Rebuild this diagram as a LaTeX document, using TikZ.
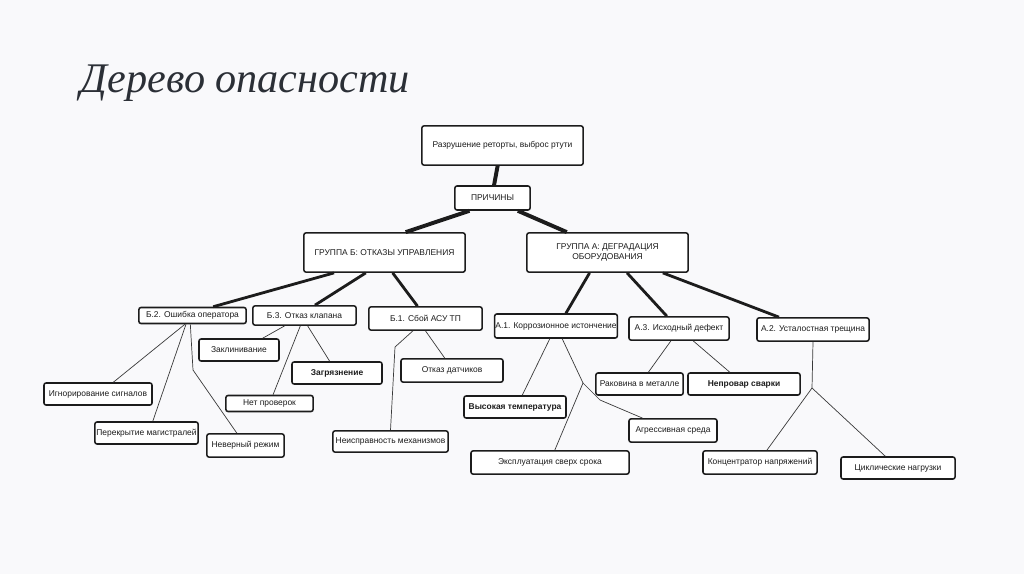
\documentclass[tikz,border=0pt]{standalone}
\usepackage{fontspec}
\setmainfont{Liberation Sans}
\newfontfamily\titlefont{Liberation Serif}
\usetikzlibrary{calc}
\definecolor{ink}{HTML}{1C1C1C}
\definecolor{paper}{HTML}{F9F9FB}
\definecolor{slate}{HTML}{2B2F36}
\definecolor{wire}{HTML}{3A3A3A}

\begin{document}
\begin{tikzpicture}[
  x=0.025cm, y=-0.025cm,
  font=\fontsize{6}{7}\selectfont, ink,
  box/.style={draw=ink, fill=white, line width=1.1pt, rounded corners=1.5pt,
              align=center, inner sep=1pt},
  trunk/.style={draw=ink, line width=2.8pt},
  limb/.style={draw=ink, line width=2pt},
  twig/.style={draw=wire, line width=0.5pt},
]
\fill[paper] (0,0) rectangle (1024,574);
\useasboundingbox (0,0) rectangle (1024,574);

\node[anchor=base west, font=\titlefont\itshape\fontsize{30}{32}\selectfont, text=slate]
  (title) at (76,92) {Дерево опасности};

% ---- top of the tree --------------------------------------------------------
\node[box, minimum width=4.03cm, minimum height=0.98cm] (top) at (502.5,145.5)
  {Разрушение реторты, выброс ртути};
\node[box, minimum width=1.88cm, minimum height=0.6cm] (why) at (492.5,198) {ПРИЧИНЫ};
\node[box, minimum width=4.03cm, minimum height=0.98cm] (grpB) at (384.5,252.5)
  {ГРУППА Б: ОТКАЗЫ УПРАВЛЕНИЯ};
\node[box, minimum width=4.03cm, minimum height=0.98cm] (grpA) at (607.5,252.5)
  {ГРУППА А: ДЕГРАДАЦИЯ\\ОБОРУДОВАНИЯ};

\draw[trunk] ($(top.south west)!0.47!(top.south east)$) -- ($(why.north west)!0.52!(why.north east)$);
\draw[trunk] ($(why.south west)!0.2!(why.south east)$) -- ($(grpB.north west)!0.63!(grpB.north east)$);
\draw[trunk] ($(why.south west)!0.83!(why.south east)$) -- ($(grpA.north west)!0.25!(grpA.north east)$);

% ---- group B ----------------------------------------------------------------
\node[box, minimum width=2.68cm, minimum height=0.4cm] (opErr) at (192.5,315.5) {Б.2. Ошибка оператора};
\node[box, minimum width=2.58cm, minimum height=0.48cm] (valve) at (304.5,315.5) {Б.3. Отказ клапана};
\node[box, minimum width=2.83cm, minimum height=0.58cm] (asu) at (425.5,318.5) {Б.1. Сбой АСУ ТП};

\draw[limb] ($(grpB.south west)!0.19!(grpB.south east)$) -- ($(opErr.north west)!0.69!(opErr.north east)$);
\draw[limb] ($(grpB.south west)!0.385!(grpB.south east)$) -- ($(valve.north west)!0.6!(valve.north east)$);
\draw[limb] ($(grpB.south west)!0.55!(grpB.south east)$) -- ($(asu.north west)!0.43!(asu.north east)$);

\node[box, minimum width=2.0cm, minimum height=0.55cm] (jam) at (239,350) {Заклинивание};
\node[box, minimum width=2.25cm, minimum height=0.55cm, font=\fontsize{6}{7}\selectfont\bfseries] (dirt) at (337,373) {Загрязнение};
\node[box, minimum width=2.55cm, minimum height=0.58cm] (sensor) at (452,370.5) {Отказ датчиков};
\node[box, minimum width=2.7cm, minimum height=0.55cm] (ignore) at (98,394) {Игнорирование сигналов};
\node[box, minimum width=2.18cm, minimum height=0.4cm] (nocheck) at (269.5,403.5) {Нет проверок};
\node[box, minimum width=2.58cm, minimum height=0.55cm] (block) at (146.5,433) {Перекрытие магистралей};
\node[box, minimum width=1.93cm, minimum height=0.58cm] (mode) at (245.5,445.5) {Неверный режим};
\node[box, minimum width=2.88cm, minimum height=0.53cm] (mech) at (390.5,441.5) {Неисправность механизмов};

\coordinate (bendMode) at (193,370);
\coordinate (bendMech) at (395,347);

\draw[twig] ($(opErr.south west)!0.43!(opErr.south east)$) -- ($(ignore.north west)!0.64!(ignore.north east)$);
\draw[twig] ($(opErr.south west)!0.44!(opErr.south east)$) -- ($(block.north west)!0.56!(block.north east)$);
\draw[twig] ($(opErr.south west)!0.48!(opErr.south east)$) -- (bendMode) -- ($(mode.north west)!0.39!(mode.north east)$);
\draw[twig] ($(valve.south west)!0.31!(valve.south east)$) -- ($(jam.north west)!0.79!(jam.north east)$);
\draw[twig] ($(valve.south west)!0.46!(valve.south east)$) -- ($(nocheck.north west)!0.54!(nocheck.north east)$);
\draw[twig] ($(valve.south west)!0.53!(valve.south east)$) -- ($(dirt.north west)!0.42!(dirt.north east)$);
\draw[twig] ($(asu.south west)!0.39!(asu.south east)$) -- (bendMech) -- ($(mech.north west)!0.5!(mech.north east)$);
\draw[twig] ($(asu.south west)!0.5!(asu.south east)$) -- ($(sensor.north west)!0.43!(sensor.north east)$);

% ---- group A ----------------------------------------------------------------
\node[box, minimum width=3.05cm, minimum height=0.6cm, inner sep=0.5pt] (corr) at (556,326) {А.1. Коррозионное истончение};
\node[box, minimum width=2.5cm, minimum height=0.58cm] (defect) at (679,328.5) {А.3. Исходный дефект};
\node[box, minimum width=2.8cm, minimum height=0.58cm] (crack) at (813,329.5) {А.2. Усталостная трещина};

\draw[limb] ($(grpA.south west)!0.39!(grpA.south east)$) -- ($(corr.north west)!0.58!(corr.north east)$);
\draw[limb] ($(grpA.south west)!0.62!(grpA.south east)$) -- ($(defect.north west)!0.38!(defect.north east)$);
\draw[limb] ($(grpA.south west)!0.84!(grpA.south east)$) -- ($(crack.north west)!0.2!(crack.north east)$);

\node[box, minimum width=2.18cm, minimum height=0.55cm] (cavity) at (639.5,384) {Раковина в металле};
\node[box, minimum width=2.8cm, minimum height=0.55cm, font=\fontsize{6}{7}\selectfont\bfseries] (weld) at (744,384) {Непровар сварки};
\node[box, minimum width=2.55cm, minimum height=0.55cm, font=\fontsize{6}{7}\selectfont\bfseries] (heat) at (515,407) {Высокая температура};
\node[box, minimum width=2.2cm, minimum height=0.58cm] (aggr) at (673,430.5) {Агрессивная среда};
\node[box, minimum width=3.95cm, minimum height=0.58cm] (overdue) at (550,462.5) {Эксплуатация сверх срока};
\node[box, minimum width=2.85cm, minimum height=0.58cm] (stress) at (760,462.5) {Концентратор напряжений};
\node[box, minimum width=2.85cm, minimum height=0.55cm] (cyclic) at (898,468) {Циклические нагрузки};

\coordinate (forkCorr) at (583,383);
\coordinate (bendAggr) at (600,400);
\coordinate (forkCrack) at (812,388);

\draw[twig] ($(corr.south west)!0.45!(corr.south east)$) -- ($(heat.north west)!0.57!(heat.north east)$);
\draw[twig] ($(corr.south west)!0.55!(corr.south east)$) -- (forkCorr);
\draw[twig] (forkCorr) -- ($(overdue.north west)!0.53!(overdue.north east)$);
\draw[twig] (forkCorr) -- (bendAggr) -- ($(aggr.north west)!0.16!(aggr.north east)$);
\draw[twig] ($(defect.south west)!0.42!(defect.south east)$) -- ($(cavity.north west)!0.6!(cavity.north east)$);
\draw[twig] ($(defect.south west)!0.64!(defect.south east)$) -- ($(weld.north west)!0.375!(weld.north east)$);
\draw[twig] ($(crack.south west)!0.5!(crack.south east)$) -- (forkCrack);
\draw[twig] (forkCrack) -- ($(stress.north west)!0.56!(stress.north east)$);
\draw[twig] (forkCrack) -- ($(cyclic.north west)!0.39!(cyclic.north east)$);

\end{tikzpicture}
\end{document}
